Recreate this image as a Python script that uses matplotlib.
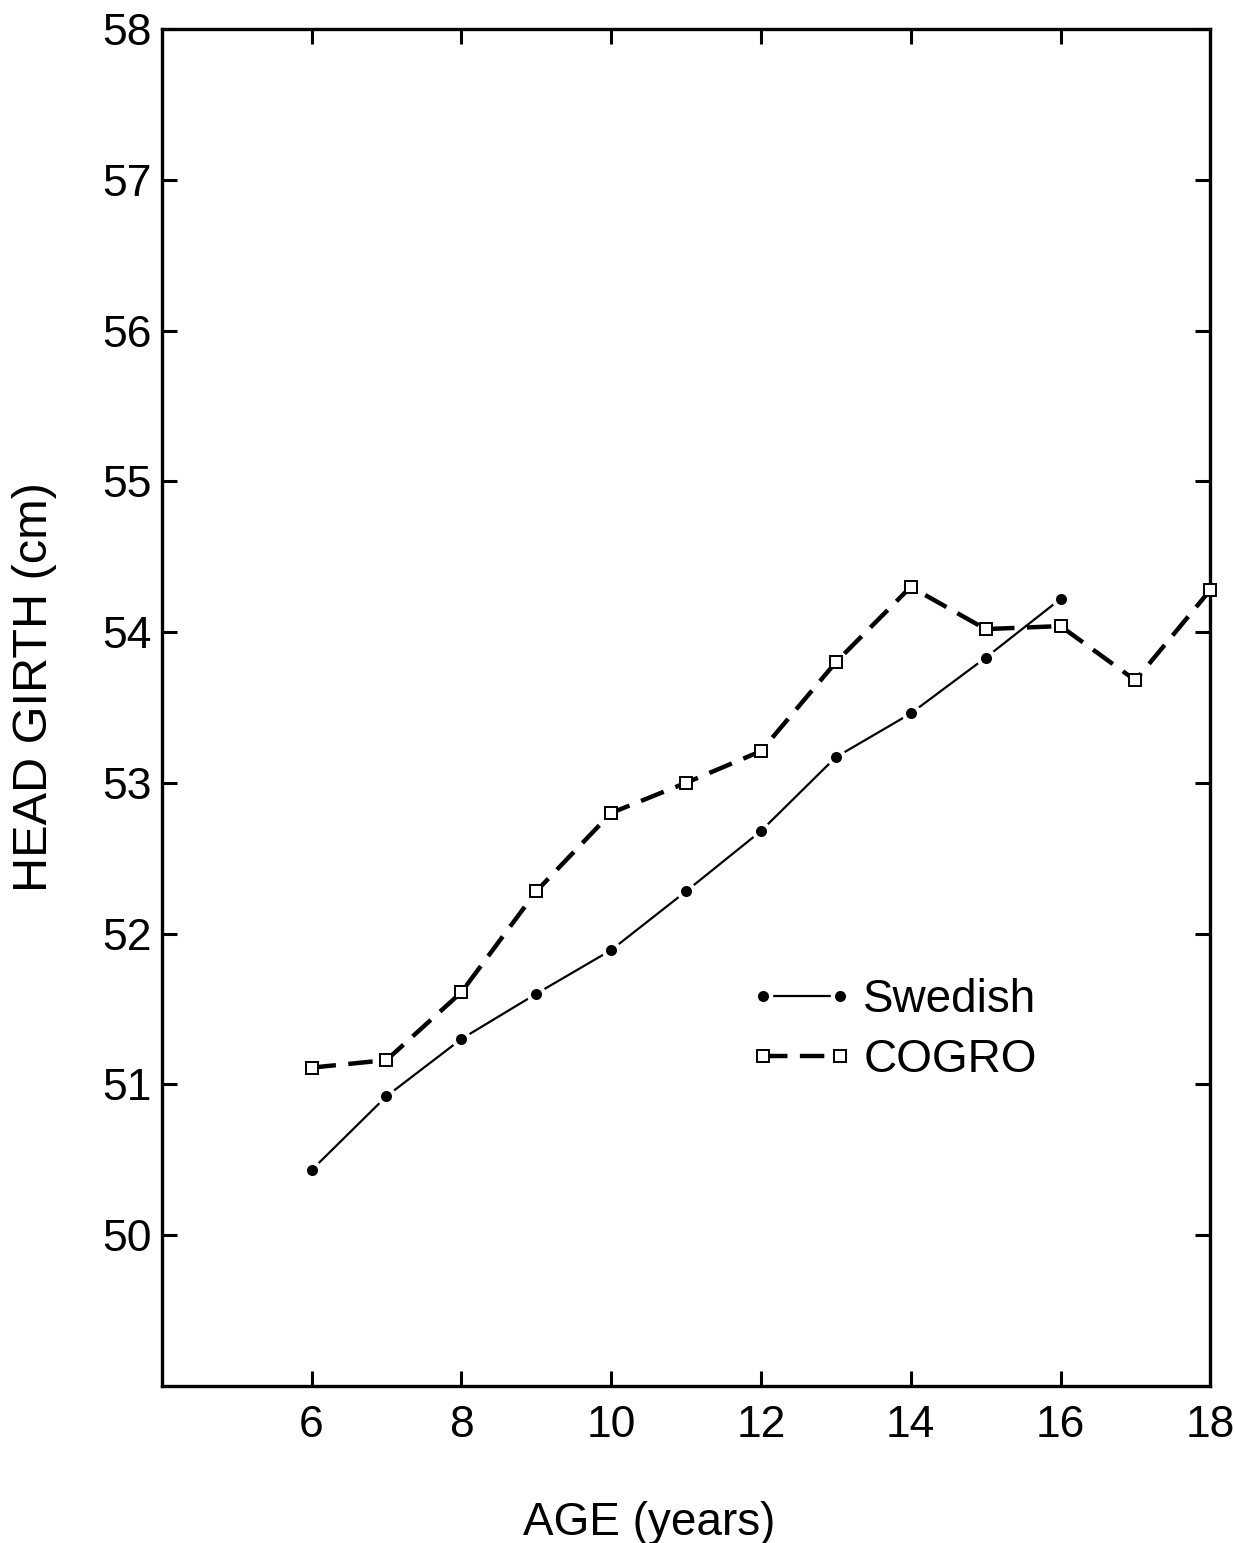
import matplotlib
matplotlib.use("Agg")
import matplotlib.pyplot as plt

plt.rcParams['font.family'] = ['Liberation Sans', 'DejaVu Sans']

ages_swedish = [6, 7, 8, 9, 10, 11, 12, 13, 14, 15, 16]
swedish = [50.43, 50.92, 51.30, 51.60, 51.89, 52.28, 52.68, 53.17, 53.46, 53.83, 54.22]

ages_cogro = [6, 7, 8, 9, 10, 11, 12, 13, 14, 15, 16, 17, 18]
cogro = [51.11, 51.16, 51.61, 52.28, 52.80, 53.00, 53.21, 53.80, 54.30, 54.02, 54.04, 53.68, 54.28]

xticks = [6, 8, 10, 12, 14, 16, 18]
yticks = [50, 51, 52, 53, 54, 55, 56, 57, 58]

fig = plt.figure(figsize=(12.35, 15.43), dpi=100)
ax = fig.add_axes([0.131, 0.102, 0.849, 0.879])

ax.plot(ages_swedish, swedish, color='black', lw=1.6, marker='o', markersize=11,
        markerfacecolor='black', markeredgecolor='white', markeredgewidth=3,
        label='Swedish', zorder=3)
ax.plot(ages_cogro, cogro, color='black', lw=3.2, dashes=(5.5, 2.8), marker='s',
        markersize=9, markerfacecolor='white', markeredgecolor='black',
        markeredgewidth=1.4, label='COGRO', zorder=4, clip_on=False)

ax.set_xlim(4, 18)
ax.set_ylim(49, 58)
ax.set_xticks(xticks)
ax.set_yticks(yticks)
ax.set_xticklabels([str(t) for t in xticks])
ax.set_yticklabels([str(t) for t in yticks])

for s in ax.spines.values():
    s.set_linewidth(2.4)

ax.tick_params(axis='both', direction='in', length=11, width=2.2, labelsize=32,
               top=True, right=True)
ax.tick_params(axis='x', pad=14)
ax.tick_params(axis='y', pad=7)

ax.set_xlabel('AGE (years)', fontsize=33)
ax.set_ylabel('HEAD GIRTH (cm)', fontsize=35)
ax.xaxis.set_label_coords(0.465, -0.085)
ax.yaxis.set_label_coords(-0.1, 0.515)

leg = ax.legend(loc='center left', bbox_to_anchor=(0.538, 0.262), frameon=False,
                fontsize=33, numpoints=2, handlelength=2.3, handletextpad=0.2,
                labelspacing=0.35, borderpad=0)

fig.savefig('out.png', dpi=100, facecolor='white')
